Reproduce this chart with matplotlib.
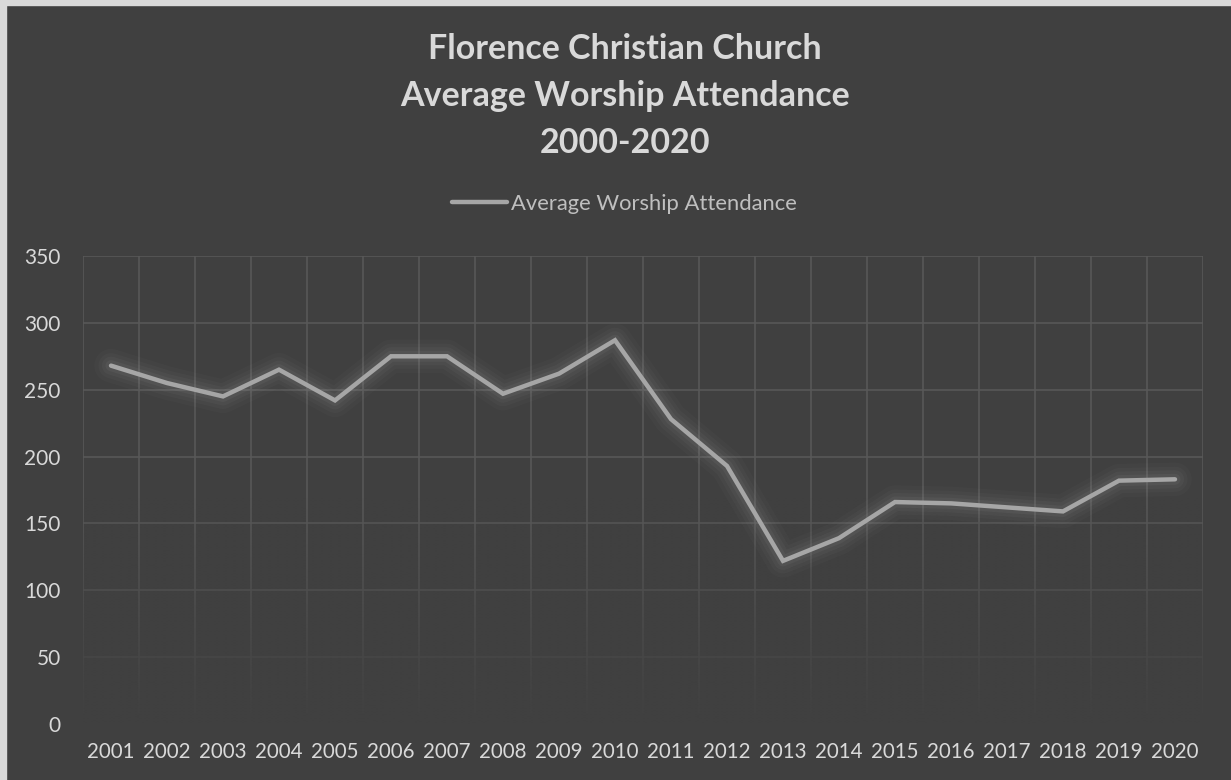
import matplotlib
matplotlib.use("Agg")
import matplotlib.pyplot as plt
import numpy as np
from matplotlib.patches import Rectangle

years = ["2001", "2002", "2003", "2004", "2005", "2006", "2007", "2008", "2009", "2010",
         "2011", "2012", "2013", "2014", "2015", "2016", "2017", "2018", "2019", "2020"]
attendance = [268, 255, 245, 265, 242, 275, 275, 247, 262, 287,
              228, 193, 122, 139, 166, 165, 162, 159, 182, 183]
y_ticks = [0, 50, 100, 150, 200, 250, 300, 350]
title_lines = ["Florence Christian Church", "Average Worship Attendance", "2000-2020"]
series_name = "Average Worship Attendance"

BG = "#404040"
TXT = "#d9d9d9"
plt.rcParams['font.family'] = ['Lato', 'DejaVu Sans']

fig = plt.figure(figsize=(12.31, 7.80), dpi=100, facecolor=BG)
ax = fig.add_axes([83/1231, 1-724/780, 1120/1231, 468/780])
ax.set_facecolor(BG)

x = np.arange(len(years))
# glow
for lw, a in [(24, 0.045), (18, 0.055), (13, 0.07), (8, 0.09)]:
    ax.plot(x, attendance, color="#9a9a9a", lw=lw, alpha=a, solid_capstyle='round',
            solid_joinstyle='round', zorder=2)
line, = ax.plot(x, attendance, color="#a6a6a6", lw=3.2, solid_capstyle='round',
                solid_joinstyle='miter', zorder=3, label=series_name)

ax.set_xlim(-0.5, len(years) - 0.5)
ax.set_ylim(0, 350)
ax.set_xticks(x)
ax.set_xticklabels(years)
ax.set_xticks(np.arange(-0.5, len(years), 1.0), minor=True)
ax.set_yticks(y_ticks)
ax.tick_params(axis='x', which='major', length=0, pad=13, labelsize=14.8, labelcolor=TXT)
ax.tick_params(axis='x', which='minor', length=0)
ax.tick_params(axis='y', length=0, pad=16, labelsize=15, labelcolor=TXT)
ax.grid(axis='x', which='minor', color="#595959", lw=1.1, zorder=0.5)
ax.grid(axis='y', which='major', color="#595959", lw=1.1, zorder=0.5)
ax.grid(axis='x', which='major', visible=False)
ax.set_axisbelow(True)
for s in ax.spines.values():
    s.set_visible(False)

# fade of gridlines toward the bottom
n = 400
vals = np.linspace(350, 0, n)
alpha = np.clip((170 - vals) / 170, 0, 1)
img = np.zeros((n, 2, 4))
img[..., :3] = np.array([0x40, 0x40, 0x40]) / 255
img[..., 3] = alpha[:, None]
ax.imshow(img, extent=(-0.5, len(years) - 0.5, 0, 350), aspect='auto', zorder=1,
          interpolation='bilinear')
ax.set_xlim(-0.5, len(years) - 0.5)
ax.set_ylim(0, 350)

fig.text(0.5075, 1-96/780, "\n".join(title_lines), ha='center', va='center',
         fontsize=24.5, fontweight='bold', color=TXT, linespacing=1.59)

leg = fig.legend(handles=[line], loc='center', bbox_to_anchor=(0.5075, 1-204/780),
                 frameon=False, fontsize=15.8, handlelength=2.5, handletextpad=0.2,
                 labelcolor="#bfbfbf")

fig.patches.append(Rectangle((0, 0), 6/1231, 1, transform=fig.transFigure,
                             color="#d9d9d9", zorder=10))
fig.patches.append(Rectangle((0, 1-5/780), 1, 5/780, transform=fig.transFigure,
                             color="#d9d9d9", zorder=10))

fig.savefig("out.png", dpi=100, facecolor=BG)
